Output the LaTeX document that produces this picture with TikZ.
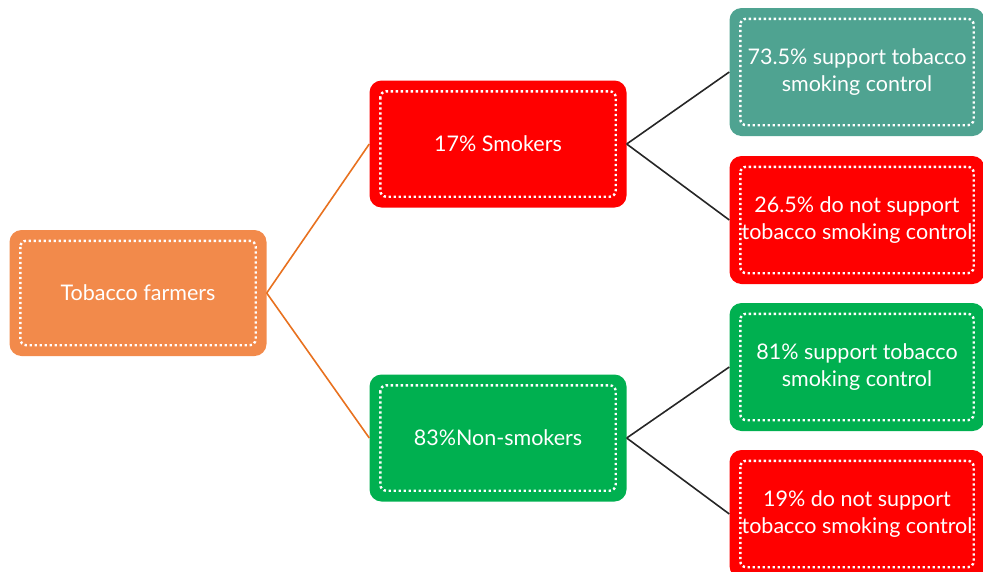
\documentclass[tikz,border=0pt]{standalone}
\usepackage{fontspec}
\setmainfont{Lato}
\usepackage{tikz}
\usetikzlibrary{arrows.meta,calc,positioning}

\definecolor{farmorange}{HTML}{F28A4B}
\definecolor{lineorange}{HTML}{E8711F}
\definecolor{smokered}{HTML}{FF0000}
\definecolor{nonsmokegreen}{HTML}{00B050}
\definecolor{supportteal}{HTML}{4FA391}

\begin{document}
\begin{tikzpicture}[x=1pt, y=-1pt,
		basic/.style  = {rectangle, rounded corners=12pt, text=white, align=center,
			font=\fontsize{21.5}{27.5}\selectfont, inner sep=0pt},
		root/.style   = {basic, fill=farmorange, minimum width=257pt, minimum height=126pt},
		level 2/.style = {basic, minimum width=257pt, minimum height=127pt},
		level 3/.style = {basic, minimum width=255pt, minimum height=128pt},
		dotborder/.style = {draw=white, line width=2.4pt, dash pattern=on 2.4pt off 2.6pt, rounded corners=6pt},
		link/.style = {line width=1.6pt}]

		\clip (0,0) rectangle (983,571);

		% Root
		\node[root] (farm) at (138,293) {Tobacco farmers};

		% Second level
		\node[level 2, fill=smokered] (smk) at (498,144) {17\% Smokers};
		\node[level 2, fill=nonsmokegreen] (non) at (498,438) {83\%Non-smokers};

		% Third level
		\node[level 3, fill=supportteal] (smk1) at (857,72) {73.5\% support tobacco\\smoking control};
		\node[level 3, fill=smokered] (smk2) at (857,220) {26.5\% do not support\\tobacco smoking control};
		\node[level 3, fill=nonsmokegreen] (non1) at (857,367) {81\% support tobacco\\smoking control};
		\node[level 3, fill=smokered] (non2) at (857,514) {19\% do not support\\tobacco smoking control};

		% Dotted inner frames
		\foreach \n in {farm,smk,non,smk1,smk2,non1,non2}
		\draw[dotborder] ($(\n.north west)+(11,11)$) rectangle ($(\n.south east)+(-11,-11)$);

		% Connectors
		\foreach \value in {smk,non}
		\draw[link, lineorange] (farm.east) -- (\value.west);

		\foreach \value in {1,2}
		\draw[link, black!85] (smk.east) -- (smk\value.west);

		\foreach \value in {1,2}
		\draw[link, black!85] (non.east) -- (non\value.west);

	\end{tikzpicture}
\end{document}
